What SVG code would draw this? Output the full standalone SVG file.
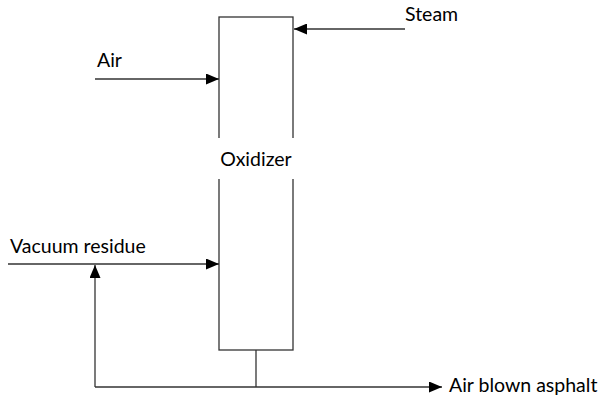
<svg xmlns="http://www.w3.org/2000/svg" width="602" height="400" viewBox="0 0 602 400">
<defs>
<style>
.t{font-family:Lato,"Open Sans",sans-serif;font-size:19.5px;fill:#000}
.ln{stroke:#333;stroke-width:1.3;fill:none}
</style>
<marker id="ah" markerWidth="13" markerHeight="11" refX="13" refY="5.5" orient="auto" markerUnits="userSpaceOnUse">
<path d="M0,0 L13,5.5 L0,11 Z" fill="#000"/>
</marker>
</defs>
<rect width="602" height="400" fill="#fff"/>
<g id="oxidizer">
<rect x="219" y="17" width="74" height="333" class="ln"/>
<rect x="215" y="138" width="82" height="41" fill="#fff"/>
<text x="256" y="166" text-anchor="middle" class="t">Oxidizer</text>
</g>
<g id="steam"><text x="405" y="21" class="t">Steam</text></g>
<g id="air"><text x="97" y="67" class="t">Air</text></g>
<g id="vacuum-residue"><text x="10" y="253" class="t">Vacuum residue</text></g>
<g id="asphalt"><text x="449" y="392" class="t">Air blown asphalt</text></g>
<g id="connectors">
<line x1="405" y1="29" x2="294" y2="29" class="ln" marker-end="url(#ah)"/>
<line x1="95" y1="79" x2="219" y2="79" class="ln" marker-end="url(#ah)"/>
<line x1="8" y1="264" x2="219" y2="264" class="ln" marker-end="url(#ah)"/>
<line x1="256" y1="350" x2="256" y2="387" class="ln"/>
<line x1="95" y1="387" x2="442" y2="387" class="ln" marker-end="url(#ah)"/>
<line x1="95" y1="387" x2="95" y2="265" class="ln" marker-end="url(#ah)"/>
</g>
</svg>
